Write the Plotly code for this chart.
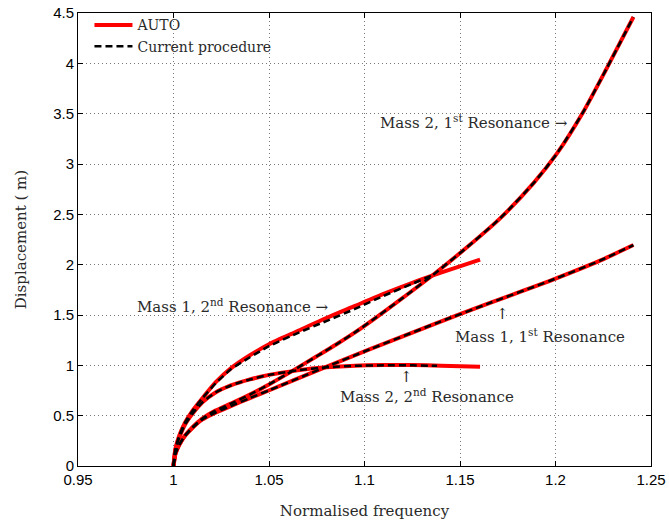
import plotly.graph_objects as go

# ---- data ----
# Mass 1, 2nd resonance
freq_A = [1.0, 1.001, 1.003, 1.006, 1.010, 1.015, 1.022, 1.030, 1.040, 1.050, 1.065,
          1.080, 1.095, 1.110, 1.125, 1.140, 1.1605]
auto_A = [0, 0.17, 0.30, 0.43, 0.55, 0.67, 0.83, 0.97, 1.10, 1.21, 1.34,
          1.47, 1.59, 1.71, 1.82, 1.92, 2.05]
freq_A_cur = [1.0, 1.001, 1.003, 1.006, 1.010, 1.015, 1.022, 1.030, 1.040, 1.050, 1.065,
              1.080, 1.095, 1.110, 1.125, 1.135]
cur_A = [0, 0.17, 0.30, 0.43, 0.55, 0.67, 0.82, 0.96, 1.08, 1.19, 1.32,
         1.44, 1.56, 1.69, 1.81, 1.89]

# Mass 2, 1st resonance
freq_B = [1.0, 1.001, 1.003, 1.006, 1.010, 1.015, 1.022, 1.030, 1.040, 1.050, 1.0627,
          1.075, 1.0854, 1.096, 1.1064, 1.1186, 1.136, 1.1535, 1.171, 1.1885, 1.2006,
          1.2146, 1.2268, 1.2408]
auto_B = [0, 0.12, 0.21, 0.30, 0.385, 0.47, 0.55, 0.62, 0.71, 0.81, 0.95,
          1.09, 1.21, 1.34, 1.48, 1.65, 1.90, 2.17, 2.46, 2.81, 3.10,
          3.52, 3.95, 4.46]
cur_B = auto_B

# Mass 1, 1st resonance
freq_C = [1.0, 1.001, 1.003, 1.006, 1.010, 1.015, 1.022, 1.030, 1.040, 1.0505, 1.0767,
          1.1029, 1.1378, 1.1657, 1.1971, 1.2233, 1.2408]
auto_C = [0, 0.12, 0.21, 0.30, 0.38, 0.46, 0.53, 0.595, 0.675, 0.755, 0.96,
          1.16, 1.42, 1.62, 1.84, 2.04, 2.195]
cur_C = auto_C

# Mass 2, 2nd resonance
freq_D = [1.0, 1.001, 1.003, 1.006, 1.010, 1.015, 1.022, 1.030, 1.040, 1.050, 1.065,
          1.080, 1.095, 1.110, 1.125, 1.140, 1.1605]
auto_D = [0, 0.16, 0.28, 0.41, 0.52, 0.63, 0.73, 0.80, 0.86, 0.905, 0.95,
          0.98, 0.997, 1.003, 1.003, 0.997, 0.985]
freq_D_cur = [1.0, 1.001, 1.003, 1.006, 1.010, 1.015, 1.022, 1.030, 1.040, 1.050, 1.065,
              1.080, 1.095, 1.110, 1.125, 1.138]
cur_D = [0, 0.16, 0.28, 0.41, 0.52, 0.63, 0.73, 0.80, 0.86, 0.905, 0.95,
         0.98, 0.995, 1.0, 1.0, 0.995]

x_ticks = [0.95, 1.0, 1.05, 1.1, 1.15, 1.2, 1.25]
x_ticktext = ["0.95", "1", "1.05", "1.1", "1.15", "1.2", "1.25"]
y_ticks = [0, 0.5, 1, 1.5, 2, 2.5, 3, 3.5, 4, 4.5]
y_ticktext = ["0", "0.5", "1", "1.5", "2", "2.5", "3", "3.5", "4", "4.5"]

SERIF = "DejaVu Serif"
SANS = "Liberation Sans"
RED = "#ff0000"
TXT = "#2a2a2a"

fig = go.Figure()

auto_series = [(freq_A, auto_A), (freq_B, auto_B), (freq_C, auto_C), (freq_D, auto_D)]
cur_series = [(freq_A_cur, cur_A), (freq_B, cur_B), (freq_C, cur_C), (freq_D_cur, cur_D)]

for i, (fx, fy) in enumerate(auto_series):
    fig.add_trace(go.Scatter(x=fx, y=fy, mode="lines", name="AUTO",
                             line=dict(color=RED, width=4, shape="spline", smoothing=0.6),
                             showlegend=(i == 0), legendgroup="auto"))
for i, (fx, fy) in enumerate(cur_series):
    fig.add_trace(go.Scatter(x=fx, y=fy, mode="lines", name="Current procedure",
                             line=dict(color="black", width=2.5, dash="7px,4px",
                                       shape="spline", smoothing=0.6),
                             showlegend=(i == 0), legendgroup="cur"))

ann_font = dict(family=SERIF, size=15, color=TXT)
annotations = [
    dict(x=1.2075, y=3.42, text="Mass 2, 1<sup>st</sup> Resonance →", xanchor="right"),
    dict(x=1.0824, y=1.59, text="Mass 1, 2<sup>nd</sup> Resonance →", xanchor="right"),
    dict(x=1.172, y=1.51, text="↑", xanchor="center"),
    dict(x=1.1919, y=1.29, text="Mass 1, 1<sup>st</sup> Resonance", xanchor="center"),
    dict(x=1.1222, y=0.88, text="↑", xanchor="center"),
    dict(x=1.1327, y=0.695, text="Mass 2, 2<sup>nd</sup> Resonance", xanchor="center"),
]
for a in annotations:
    fig.add_annotation(xref="x", yref="y", showarrow=False, yanchor="middle",
                       font=ann_font, **a)

axis_common = dict(
    showline=True, linecolor="black", linewidth=1, mirror="ticks",
    ticks="inside", ticklen=5, tickcolor="black", tickwidth=1,
    showgrid=True, gridcolor="#777777", gridwidth=1, griddash="1px,3px",
    zeroline=False,
    tickfont=dict(family=SANS, size=15, color="black"),
)

fig.update_layout(
    width=669, height=523,
    margin=dict(l=78, r=18, t=13, b=57, pad=0, autoexpand=False),
    paper_bgcolor="white", plot_bgcolor="white",
    xaxis=dict(range=[0.95, 1.25], tickvals=x_ticks, ticktext=x_ticktext,
               title=dict(text="Normalised frequency", font=dict(family=SERIF, size=15, color=TXT),
                          standoff=18),
               **axis_common),
    yaxis=dict(range=[0, 4.5], tickvals=y_ticks, ticktext=y_ticktext,
               title=dict(text="Displacement ( m)", font=dict(family=SERIF, size=15, color=TXT),
                          standoff=22),
               **axis_common),
    legend=dict(x=0.02, y=1.008, xanchor="left", yanchor="top", bgcolor="rgba(0,0,0,0)",
                borderwidth=0, font=dict(family=SERIF, size=14, color=TXT),
                tracegroupgap=0, itemwidth=38),
    showlegend=True,
)

fig.write_html("out.html")
